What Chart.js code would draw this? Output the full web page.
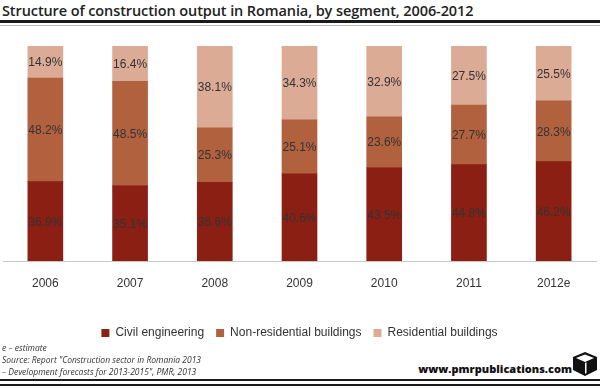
<!DOCTYPE html>
<html lang="en">
<head>
    <meta charset="UTF-8">
    <title>Structure of construction output in Romania</title>
    <script src="https://cdn.jsdelivr.net/npm/chart.js@4.4.3/dist/chart.umd.min.js"></script>
    <style>
        html, body { margin: 0; padding: 0; background: #fff; }
        body { width: 600px; height: 388px; position: relative; overflow: hidden; font-family: "Open Sans", sans-serif; color: #222; }
        #title { position: absolute; left: 2px; top: 1px; font-size: 14.5px; font-weight: 600; letter-spacing: -0.1px; white-space: nowrap; }
        .rule { position: absolute; left: 0; width: 600px; }
        #chart-box { position: absolute; left: 0; top: 36px; width: 600px; height: 313px; }
        #notes { position: absolute; left: 2px; top: 342px; font-size: 8.5px; font-style: italic; line-height: 12px; color: #333; }
        #brand { position: absolute; right: 28px; top: 361px; font-size: 11px; font-weight: 800; color: #111; }
        #logo { position: absolute; left: 573px; top: 352px; }
    </style>
</head>
<body>
    <div id="title">Structure of construction output in Romania, by segment, 2006-2012</div>
    <div class="rule" style="top:20px;height:3px;background:#1a1a1a"></div>
    <div class="rule" style="top:25px;height:1px;background:#bbb"></div>

    <div id="chart-box"><canvas id="construction-chart"></canvas></div>

    <div id="notes">
        e – estimate<br>
        Source: Report "Construction sector in Romania 2013<br>
        – Development forecasts for 2013-2015", PMR, 2013
    </div>
    <div id="brand">www.pmrpublications.com</div>
    <svg id="logo" width="24" height="24" viewBox="0 0 24 24">
        <!-- simple cube mark -->
        <polygon points="12,0 24,5 24,18 12,24 0,18 0,5" fill="#111"/>
        <polygon points="3,6 12,2.5 21,6 12,10" fill="#fff"/>
        <polygon points="12,11 13.5,10.3 13.5,21 12,21.8" fill="#fff"/>
    </svg>
    <div class="rule" style="top:379px;height:2px;background:#1a1a1a"></div>
    <div class="rule" style="top:384px;height:2px;background:#1a1a1a"></div>

    <script>
        // Values (percent of total output)
        const years = ['2006', '2007', '2008', '2009', '2010', '2011', '2012e'];
        const civilEngineering = [36.9, 35.1, 36.6, 40.6, 43.5, 44.8, 46.2];
        const nonResidential = [48.2, 48.5, 25.3, 25.1, 23.6, 27.7, 28.3];
        const residential = [14.9, 16.4, 38.1, 34.3, 32.9, 27.5, 25.5];

        const labelFont = '"Liberation Sans", Arial, sans-serif';

        // Draws the value in the middle of each stacked segment
        const segmentLabels = {
            id: 'segmentLabels',
            afterDatasetsDraw(chart) {
                const ctx = chart.ctx;
                ctx.save();
                ctx.font = '12px ' + labelFont;
                ctx.fillStyle = '#333';
                ctx.textAlign = 'center';
                ctx.textBaseline = 'middle';
                chart.data.datasets.forEach((ds, i) => {
                    const meta = chart.getDatasetMeta(i);
                    meta.data.forEach((bar, j) => {
                        const v = ds.data[j];
                        ctx.fillText(v.toFixed(1) + '%', bar.x, (bar.y + bar.base) / 2 + 1);
                    });
                });
                ctx.restore();
            }
        };

        new Chart(document.getElementById('construction-chart'), {
            type: 'bar',
            data: {
                labels: years,
                datasets: [
                    { label: 'Civil engineering', data: civilEngineering, backgroundColor: '#8b1f13' },
                    { label: 'Non-residential buildings', data: nonResidential, backgroundColor: '#b2613f' },
                    { label: 'Residential buildings', data: residential, backgroundColor: '#dcab95' }
                ]
            },
            options: {
                responsive: true,
                maintainAspectRatio: false,
                animation: false,
                layout: { padding: { left: 3, right: 4, top: 10, bottom: 0 } },
                datasets: { bar: { barThickness: 35 } },
                plugins: {
                    legend: {
                        position: 'bottom',
                        labels: {
                            boxWidth: 8,
                            boxHeight: 8,
                            padding: 12,
                            color: '#333',
                            font: { family: labelFont, size: 12 }
                        }
                    },
                    tooltip: { enabled: false }
                },
                scales: {
                    x: {
                        stacked: true,
                        grid: { display: false },
                        border: { color: '#c8c8c8' },
                        ticks: { color: '#333', padding: 7, font: { family: labelFont, size: 12 } },
                        afterFit(scale) { scale.height = 54; }
                    },
                    y: {
                        stacked: true,
                        display: false,
                        min: 0,
                        max: 100
                    }
                }
            },
            plugins: [segmentLabels]
        });
    </script>
</body>
</html>
